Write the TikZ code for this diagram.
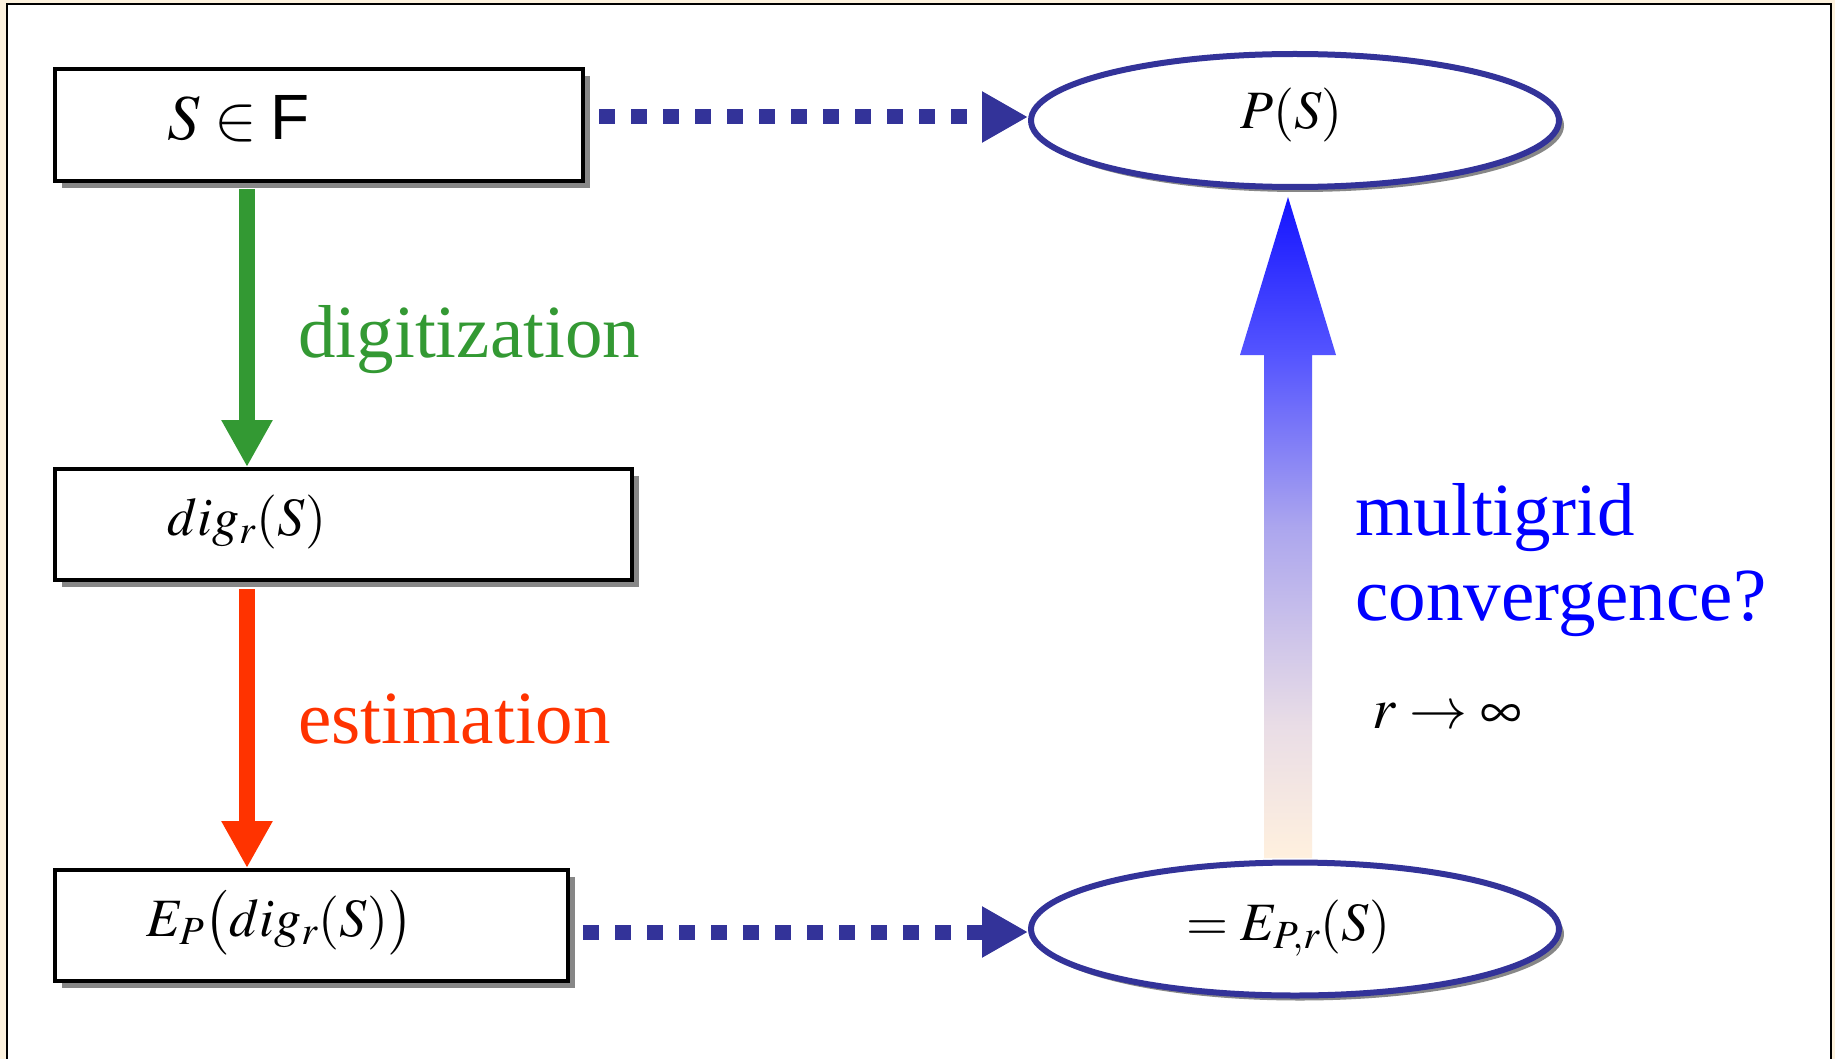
\documentclass[tikz,border=0pt]{standalone}
\usepackage{mathptmx}
\usepackage{fontspec}
\setmainfont{Liberation Serif}
\newfontfamily\hvf{Liberation Sans}
\usetikzlibrary{arrows.meta,shapes.geometric,shadows}
\definecolor{cream}{RGB}{253,242,222}
\definecolor{navy}{RGB}{51,51,153}
\definecolor{dgreen}{RGB}{51,153,51}
\definecolor{ored}{RGB}{255,51,0}
\definecolor{tipblue}{RGB}{20,20,255}
\definecolor{headblue}{RGB}{85,85,255}
\definecolor{midlav}{RGB}{172,166,238}
\definecolor{pinklav}{RGB}{233,221,230}
\definecolor{peach}{RGB}{255,240,222}
\pgfdeclareverticalshading{convshade}{100bp}{color(0bp)=(peach); color(25bp)=(peach);
  color(35bp)=(pinklav); color(50bp)=(midlav); color(63bp)=(headblue);
  color(75bp)=(tipblue); color(100bp)=(tipblue)}
\begin{document}
\begin{tikzpicture}[x=0.5pt,y=-0.5pt,
  box/.style={draw=black,line width=2pt,fill=white,rectangle,inner sep=0pt,
     drop shadow={shadow xshift=3.5pt,shadow yshift=-3.5pt,fill=black!47,opacity=1}},
  oval/.style={ellipse,draw=navy,line width=3pt,fill=white,inner sep=0pt,
     minimum width=264pt,minimum height=66.5pt,
     drop shadow={shadow xshift=2.5pt,shadow yshift=-2.5pt,fill=black!47,opacity=1}},
  dotarrow/.style={draw=navy,line width=7.5pt,dash pattern=on 8pt off 8pt,
     -{Triangle[length=23pt,width=24pt,fill=navy]}},
  flowarrow/.style={line width=8pt,-{Triangle[length=23.5pt,width=24pt]}},
  mathtxt/.style={anchor=base west,inner sep=0pt,font=\fontsize{27}{30}\selectfont},
  wordtxt/.style={anchor=base west,inner sep=0pt,font=\fontsize{37.5}{42}\selectfont}
]
\clip (0,0) rectangle (1835,1059);
\useasboundingbox (0,0) rectangle (1835,1059);
\fill[cream] (0,0) rectangle (1835,1059);
\draw[line width=1pt,fill=white] (7,4) rectangle (1831,1075);

% boxes
\node[box,minimum width=264pt,minimum height=56pt] (b1) at (319,125) {};
\node[box,minimum width=288.5pt,minimum height=55.5pt] (b2) at (343.5,524.5) {};
\node[box,minimum width=256.5pt,minimum height=55.5pt] (b3) at (311,925.5) {};

% ellipses
\node[oval] (e1) at (1295,120.5) {};
\node[oval] (e2) at (1295,929) {};

% texts in shapes
\node[mathtxt,font=\fontsize{32}{36}\selectfont] (t1) at (167,140) {$S \in \mbox{\hvf F}$};
\node[mathtxt] (t2) at (167,535) {$dig_r(S)$};
\node[mathtxt] (t3) at (146,936) {$E_P\bigl(dig_r(S)\bigr)$};
\node[mathtxt] (t4) at (1240,129) {$P(S)$};
\node[mathtxt] (t5) at (1186,940) {$= E_{P,r}(S)$};

% vertical arrows
\coordinate (gx) at (247,0);
\draw[flowarrow,draw=dgreen,fill=dgreen] ([yshift=-3pt]b1.south -| gx) -- (b2.north -| gx);
\draw[flowarrow,draw=ored,fill=ored] ([yshift=-3.5pt]b2.south -| gx) -- (b3.north -| gx);

\node[wordtxt,text=dgreen] (ldig) at (298,357) {digitization};
\node[wordtxt,text=ored] (lest) at (298,743) {estimation};

% dotted arrows
\coordinate (d1s) at (599,117);
\coordinate (d2s) at (583,932);
\draw[dotarrow] (d1s) -- (e1.west |- d1s);
\draw[dotarrow] (d2s) -- (e2.west |- d2s);

% gradient arrow
\shade[shading=convshade]
  (1264,858) -- (1264,355) -- (1240,355) -- (1288,197) -- (1336,355)
  -- (1312,355) -- (1312,858) -- cycle;

\node[wordtxt,text=blue] (lmg) at (1355,535) {multigrid};
\node[wordtxt,text=blue] (lconv) at (1355,620) {convergence?};
\node[mathtxt,font=\fontsize{29}{32}\selectfont] (linf) at (1372,728) {$r \rightarrow \infty$};
\end{tikzpicture}
\end{document}
